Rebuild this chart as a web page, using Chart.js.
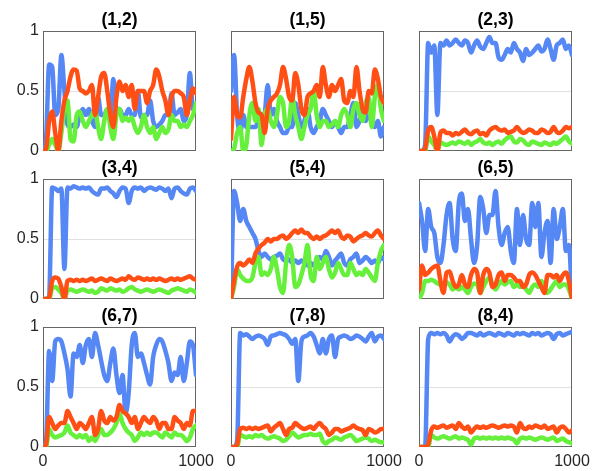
<!DOCTYPE html>
<html>
<head>
<meta charset="utf-8">
<script src="https://cdn.jsdelivr.net/npm/chart.js@4"></script>
<style>
  body { margin: 0; background: #fff; }
  #wrap { position: relative; width: 604px; height: 471px; overflow: hidden; }
  .cell { position: absolute; }
</style>
</head>
<body>
<div id="wrap"></div>
<script>
/* ===== DATA ===== */
const xs = [0,20,40,60,80,100,120,140,160,180,200,220,240,260,280,300,320,340,360,380,400,420,440,460,480,500,520,540,560,580,600,620,640,660,680,700,720,740,760,780,800,820,840,860,880,900,920,940,960,980,1000];
const xTicks = [0, 1000];
const yTicks = [0, 0.5, 1];
const titles = ["(1,2)", "(1,5)", "(2,3)", "(3,4)", "(5,4)", "(6,5)", "(6,7)", "(7,8)", "(8,4)"];

// (1,2)
const p12Blue  = [0,0.1,0.72,0.7,0.3,0.35,0.8,0.5,0.22,0.2,0.22,0.2,0.3,0.35,0.3,0.35,0.25,0.2,0.45,0.3,0.3,0.35,0.3,0.6,0.35,0.35,0.3,0.3,0.35,0.3,0.3,0.5,0.28,0.3,0.3,0.42,0.25,0.2,0.22,0.25,0.3,0.3,0.48,0.3,0.32,0.35,0.25,0.3,0.65,0.35,0.35];
const p12Red   = [0,0.02,0.25,0.33,0.15,0,0.25,0.42,0.5,0.62,0.68,0.67,0.52,0.5,0.48,0.5,0.55,0.3,0.45,0.62,0.65,0.5,0.3,0.2,0.45,0.58,0.5,0.55,0.45,0.55,0.35,0.5,0.5,0.5,0.4,0.5,0.55,0.68,0.62,0.5,0.42,0.3,0.45,0.5,0.5,0.48,0.45,0.3,0.42,0.52,0.48];
const p12Green = [0,0,0.05,0.1,0.05,0,0.15,0.35,0.42,0.1,0.08,0.3,0.33,0.25,0.2,0.25,0.3,0.35,0.2,0.1,0.25,0.35,0.2,0.1,0.3,0.35,0.25,0.28,0.25,0.28,0.2,0.15,0.2,0.3,0.2,0.15,0.2,0.1,0.15,0.2,0.15,0.18,0.3,0.25,0.25,0.2,0.22,0.2,0.25,0.3,0.4];

// (1,5)
const p15Blue  = [0.5,0.8,0.3,0.15,0.3,0.2,0.2,0.2,0.2,0.25,0.2,0.3,0.55,0.3,0.35,0.25,0.2,0.15,0.15,0.2,0.2,0.4,0.3,0.2,0.25,0.35,0.2,0.15,0.2,0.25,0.35,0.3,0.25,0.2,0.25,0.2,0.15,0.2,0.2,0.3,0.4,0.2,0.25,0.35,0.25,0.3,0.25,0.2,0.25,0.12,0.2];
const p15Red   = [0.1,0.45,0.3,0.28,0.45,0.6,0.7,0.58,0.4,0.32,0.3,0.15,0.35,0.42,0.45,0.48,0.55,0.7,0.6,0.45,0.42,0.65,0.55,0.35,0.3,0.45,0.48,0.5,0.55,0.45,0.7,0.55,0.45,0.55,0.5,0.55,0.6,0.42,0.4,0.5,0.45,0.7,0.5,0.35,0.32,0.5,0.48,0.68,0.6,0.45,0.4];
const p15Green = [0,0.02,0.15,0.2,0,0.05,0.3,0.4,0.25,0.35,0.05,0.3,0.35,0.25,0.2,0.3,0.45,0.4,0.2,0.25,0.45,0.3,0.2,0.1,0.2,0.3,0.35,0.5,0.3,0.2,0.25,0.25,0.2,0.22,0.25,0.2,0.3,0.35,0.3,0.2,0.35,0.4,0.3,0.25,0.4,0.45,0.2,0.45,0.55,0.35,0.25];

// (2,3)
const p23Blue  = [0,0,0.05,0.9,0.82,0.88,0.3,0.9,0.88,0.92,0.88,0.9,0.93,0.9,0.88,0.92,0.9,0.82,0.88,0.92,0.87,0.85,0.9,0.95,0.9,0.9,0.78,0.76,0.8,0.85,0.82,0.9,0.85,0.82,0.75,0.85,0.8,0.82,0.85,0.88,0.83,0.85,0.93,0.85,0.76,0.88,0.9,0.93,0.85,0.88,0.8];
const p23Red   = [0,0,0.02,0.17,0.2,0.12,0,0.15,0.17,0.15,0.15,0.13,0.15,0.14,0.16,0.18,0.15,0.14,0.16,0.17,0.14,0.15,0.13,0.17,0.19,0.2,0.18,0.17,0.18,0.15,0.16,0.17,0.2,0.17,0.15,0.16,0.18,0.17,0.15,0.15,0.18,0.17,0.15,0.16,0.2,0.16,0.15,0.17,0.2,0.19,0.2];
const p23Green = [0,0,0,0.12,0.08,0.05,0,0.07,0.06,0.05,0.06,0.07,0.06,0.08,0.07,0.06,0.08,0.05,0.07,0.08,0.1,0.07,0.06,0.07,0.05,0.07,0.08,0.06,0.09,0.11,0.12,0.08,0.07,0.1,0.09,0.06,0.05,0.08,0.07,0.06,0.05,0.07,0.06,0.05,0.07,0.06,0.08,0.1,0.12,0.08,0.06];

// (3,4)
const p34Blue  = [0,0,0.02,0.93,0.92,0.9,0.92,0.25,0.93,0.92,0.94,0.93,0.92,0.93,0.92,0.93,0.9,0.88,0.87,0.92,0.92,0.93,0.9,0.88,0.85,0.9,0.93,0.92,0.8,0.9,0.93,0.92,0.93,0.9,0.92,0.93,0.92,0.91,0.93,0.92,0.9,0.92,0.84,0.92,0.93,0.9,0.88,0.87,0.92,0.93,0.9];
const p34Red   = [0,0,0.01,0.15,0.18,0.17,0.1,0,0.15,0.16,0.15,0.16,0.15,0.16,0.15,0.16,0.17,0.15,0.16,0.17,0.16,0.15,0.17,0.16,0.15,0.16,0.17,0.16,0.19,0.17,0.16,0.18,0.17,0.16,0.17,0.16,0.17,0.16,0.17,0.16,0.15,0.16,0.17,0.16,0.17,0.16,0.17,0.18,0.19,0.17,0.16];
const p34Green = [0,0,0,0.09,0.1,0.08,0.05,0,0.07,0.08,0.07,0.06,0.07,0.08,0.07,0.06,0.07,0.05,0.06,0.09,0.08,0.07,0.09,0.08,0.07,0.08,0.06,0.07,0.09,0.1,0.08,0.07,0.06,0.07,0.08,0.07,0.06,0.07,0.08,0.07,0.06,0.05,0.07,0.08,0.09,0.08,0.07,0.06,0.08,0.07,0.05];

// (5,4)
const p54Blue  = [0,0.9,0.8,0.65,0.75,0.65,0.6,0.55,0.5,0.4,0.35,0.38,0.35,0.33,0.35,0.36,0.38,0.33,0.32,0.33,0.3,0.32,0.3,0.32,0.3,0.28,0.3,0.28,0.32,0.35,0.33,0.4,0.35,0.28,0.32,0.35,0.38,0.3,0.28,0.33,0.35,0.38,0.3,0.32,0.35,0.33,0.3,0.32,0.3,0.35,0.33];
const p54Red   = [0,0.15,0.27,0.3,0.28,0.3,0.33,0.3,0.38,0.42,0.45,0.47,0.5,0.48,0.5,0.5,0.52,0.53,0.5,0.52,0.55,0.57,0.55,0.58,0.55,0.55,0.52,0.5,0.52,0.5,0.52,0.53,0.55,0.57,0.55,0.57,0.52,0.5,0.53,0.52,0.48,0.5,0.52,0.53,0.55,0.53,0.52,0.55,0.57,0.53,0.5];
const p54Green = [0,0.1,0.25,0.2,0.17,0.15,0.15,0.18,0.3,0.35,0.2,0.22,0.2,0.25,0.35,0.25,0.1,0.05,0.3,0.45,0.35,0.1,0.12,0.2,0.3,0.45,0.2,0.15,0.35,0.25,0.3,0.35,0.25,0.18,0.22,0.3,0.25,0.2,0.2,0.3,0.25,0.2,0.22,0.2,0.25,0.22,0.18,0.15,0.3,0.4,0.45];

// (6,5)
const p65Blue  = [0.8,0.65,0.4,0.75,0.6,0.55,0.35,0.3,0.45,0.7,0.8,0.5,0.4,0.8,0.88,0.65,0.75,0.5,0.3,0.45,0.85,0.75,0.55,0.7,0.7,0.9,0.6,0.45,0.55,0.6,0.4,0.3,0.75,0.45,0.7,0.5,0.45,0.8,0.6,0.8,0.35,0.55,0.65,0.3,0.75,0.5,0.6,0.75,0.4,0.45,0];
const p65Red   = [0.08,0.28,0.2,0.22,0.25,0.27,0.28,0.15,0.05,0.22,0.23,0.15,0.1,0.12,0.2,0.12,0.1,0.2,0.25,0.22,0.05,0.2,0.25,0.22,0.1,0.12,0.2,0.22,0.15,0.2,0.2,0.18,0.15,0.15,0.1,0.12,0.2,0.22,0.2,0.15,0.1,0.05,0.2,0.2,0.18,0.2,0.15,0.2,0.22,0.15,0];
const p65Green = [0,0.05,0.15,0.15,0.16,0.15,0.13,0.12,0.1,0.14,0.12,0.08,0.1,0.08,0.1,0.08,0.05,0.1,0.13,0.12,0.05,0.1,0.15,0.18,0.12,0.08,0.12,0.15,0.12,0.14,0.15,0.1,0.12,0.1,0.12,0.08,0.05,0.1,0.12,0.1,0.15,0.1,0.05,0.08,0.12,0.15,0.1,0.12,0.12,0.08,0];

// (6,7)
const p67Blue  = [0,0.05,0.8,0.55,0.88,0.9,0.88,0.78,0.65,0.42,0.78,0.75,0.85,0.7,0.85,0.9,0.75,0.95,0.85,0.72,0.6,0.55,0.7,0.82,0.6,0.45,0.6,0.28,0.45,0.85,0.95,0.75,0.78,0.7,0.6,0.52,0.75,0.85,0.9,0.88,0.8,0.7,0.55,0.62,0.6,0.75,0.55,0.7,0.88,0.85,0.6];
const p67Red   = [0,0.02,0.25,0.2,0.15,0.18,0.2,0.2,0.3,0.25,0.2,0.15,0.2,0.18,0.15,0.2,0.25,0.1,0.15,0.3,0.22,0.2,0.25,0.22,0.25,0.35,0.3,0.28,0.25,0.2,0.25,0.15,0.2,0.25,0.22,0.2,0.25,0.22,0.15,0.2,0.2,0.15,0.15,0.25,0.22,0.2,0.15,0.2,0.18,0.3,0.3];
const p67Green = [0,0,0.15,0.1,0.08,0.09,0.1,0.12,0.18,0.12,0.1,0.08,0.1,0.08,0.1,0.05,0.08,0.05,0.1,0.15,0.1,0.1,0.12,0.15,0.2,0.28,0.2,0.15,0.12,0.1,0.05,0.08,0.12,0.1,0.12,0.1,0.12,0.12,0.1,0.08,0.12,0.1,0.08,0.12,0.1,0.1,0.08,0.05,0.08,0.15,0.18];

// (7,8)
const p78Blue  = [0,0,0.05,0.95,0.93,0.94,0.92,0.9,0.92,0.93,0.92,0.9,0.85,0.92,0.93,0.94,0.95,0.94,0.93,0.9,0.86,0.9,0.55,0.88,0.92,0.93,0.95,0.92,0.85,0.78,0.9,0.78,0.9,0.93,0.75,0.9,0.92,0.93,0.92,0.9,0.91,0.93,0.92,0.9,0.88,0.92,0.95,0.88,0.92,0.93,0.9];
const p78Red   = [0,0,0.02,0.15,0.16,0.15,0.16,0.15,0.16,0.15,0.16,0.17,0.18,0.13,0.16,0.18,0.2,0.15,0.1,0.15,0.16,0.2,0.18,0.16,0.15,0.16,0.17,0.15,0.18,0.2,0.17,0.15,0.1,0.12,0.15,0.15,0.13,0.14,0.15,0.16,0.18,0.16,0.15,0.14,0.1,0.15,0.14,0.12,0.13,0.15,0.15];
const p78Green = [0,0,0,0.1,0.09,0.08,0.09,0.08,0.1,0.09,0.1,0.08,0.07,0.08,0.09,0.08,0.07,0.05,0.06,0.09,0.12,0.1,0.08,0.09,0.1,0.1,0.11,0.1,0.1,0.11,0.05,0.03,0.05,0.06,0.08,0.07,0.06,0.08,0.09,0.1,0.08,0.05,0.06,0.07,0.08,0.07,0.05,0.06,0.05,0.04,0.04];

// (8,4)
const p84Blue  = [0,0,0,0.9,0.95,0.94,0.95,0.94,0.95,0.93,0.88,0.92,0.94,0.93,0.9,0.92,0.95,0.95,0.94,0.93,0.95,0.93,0.94,0.95,0.94,0.93,0.95,0.94,0.93,0.95,0.94,0.93,0.95,0.94,0.95,0.94,0.93,0.95,0.94,0.95,0.93,0.94,0.95,0.94,0.9,0.94,0.95,0.93,0.94,0.95,0.96];
const p84Red   = [0,0,0,0.02,0.14,0.17,0.16,0.17,0.18,0.16,0.17,0.18,0.15,0.2,0.17,0.15,0.17,0.12,0.15,0.17,0.16,0.17,0.16,0.17,0.18,0.17,0.16,0.17,0.18,0.17,0.18,0.17,0.12,0.2,0.16,0.15,0.17,0.16,0.18,0.17,0.16,0.18,0.15,0.16,0.17,0.12,0.16,0.17,0.15,0.12,0.14];
const p84Green = [0,0,0,0,0.1,0.08,0.07,0.08,0.09,0.08,0.07,0.08,0.09,0.07,0.08,0.07,0.06,0.02,0.07,0.08,0.07,0.08,0.07,0.08,0.07,0.08,0.07,0.08,0.07,0.08,0.07,0.06,0.03,0.07,0.08,0.07,0.08,0.07,0.06,0.07,0.08,0.07,0.06,0.07,0.08,0.05,0.06,0.07,0.05,0.04,0.03];

const blueSeries  = [p12Blue, p15Blue, p23Blue, p34Blue, p54Blue, p65Blue, p67Blue, p78Blue, p84Blue];
const redSeries   = [p12Red, p15Red, p23Red, p34Red, p54Red, p65Red, p67Red, p78Red, p84Red];
const greenSeries = [p12Green, p15Green, p23Green, p34Green, p54Green, p65Green, p67Green, p78Green, p84Green];

/* ===== LAYOUT ===== */
const BLUE = "#5587f5", RED = "#ff4f14", GREEN = "#66f03c";
const FONT = "'Liberation Sans', Arial, Helvetica, sans-serif";
const PLOT_W = 153, PLOT_H = 120, AX_W = 45, TITLE_H = 30, X_H = 28, PAD_R = 25;
const colLeft = [43, 231, 419];
const rowTop = [31, 179, 327];

// box round each axes, drawn under the lines
const boxPlugin = {
  id: "box",
  beforeDatasetsDraw(chart) {
    const { ctx, chartArea: a } = chart;
    ctx.save();
    ctx.strokeStyle = "#666";
    ctx.lineWidth = 1;
    ctx.strokeRect(Math.round(a.left) + 0.5, Math.round(a.top) + 0.5,
                   Math.round(a.width) - 1, Math.round(a.height) - 1);
    ctx.restore();
  }
};

const toPts = arr => xs.map((x, i) => ({ x, y: arr[i] }));
const line = (arr, color) => ({
  data: toPts(arr),
  borderColor: color,
  borderWidth: 4.5,
  pointRadius: 0,
  cubicInterpolationMode: "monotone",
  borderJoinStyle: "round",
  borderCapStyle: "round"
});

const wrap = document.getElementById("wrap");

titles.forEach((title, k) => {
  const row = Math.floor(k / 3), col = k % 3;
  const cv = document.createElement("canvas");
  cv.width = AX_W + PLOT_W + PAD_R;
  cv.height = TITLE_H + PLOT_H + X_H;
  cv.className = "cell";
  cv.style.left = (colLeft[col] - AX_W) + "px";
  cv.style.top = (rowTop[row] - TITLE_H) + "px";
  wrap.appendChild(cv);

  new Chart(cv, {
    type: "line",
    data: {
      // first dataset is drawn on top
      datasets: [line(redSeries[k], RED), line(greenSeries[k], GREEN), line(blueSeries[k], BLUE)]
    },
    options: {
      responsive: false,
      animation: false,
      devicePixelRatio: 1,
      layout: { padding: { left: 0, right: PAD_R, top: 0, bottom: 0 } },
      plugins: {
        legend: { display: false },
        tooltip: { enabled: false },
        title: {
          display: true,
          fullSize: false,
          text: title,
          color: "#000",
          font: { family: FONT, size: 17.5, weight: "bold", lineHeight: 1.2 },
          padding: { top: 8.5, bottom: 0.5 }
        }
      },
      scales: {
        x: {
          type: "linear",
          min: 0,
          max: 1000,
          afterBuildTicks: s => { s.ticks = xTicks.map(v => ({ value: v })); },
          afterFit: s => { s.height = X_H; },
          grid: { display: false, drawTicks: false },
          border: { display: false },
          ticks: {
            display: row === 2,
            color: "#262626",
            font: { family: FONT, size: 16 },
            padding: 5,
            maxRotation: 0,
            callback: v => String(v)
          }
        },
        y: {
          min: 0,
          max: 1,
          afterBuildTicks: s => { s.ticks = yTicks.map(v => ({ value: v })); },
          afterFit: s => { s.width = AX_W; },
          grid: {
            drawTicks: false,
            lineWidth: 1,
            color: c => (c.tick && c.tick.value === 0.5 ? "#e0e0e0" : "rgba(0,0,0,0)")
          },
          border: { display: false },
          ticks: {
            display: col === 0,
            color: "#262626",
            font: { family: FONT, size: 16 },
            padding: 4,
            callback: v => String(v)
          }
        }
      }
    },
    plugins: [boxPlugin]
  });
});
</script>
</body>
</html>
